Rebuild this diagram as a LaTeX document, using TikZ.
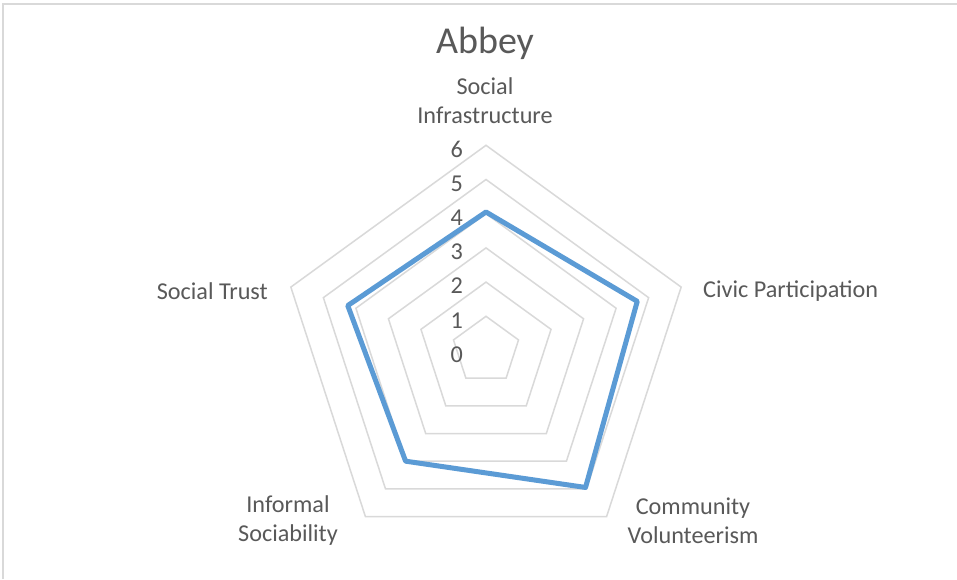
\documentclass[tikz,border=0pt]{standalone}
\usepackage{fontspec}
\setmainfont{Carlito}
\usetikzlibrary{calc}
\definecolor{gridc}{HTML}{D9D9D9}
\definecolor{txt}{HTML}{595959}
\definecolor{serie}{HTML}{5B9BD5}
\tikzset{
  gridline/.style={draw=gridc, line width=1.5pt, line join=miter},
  serieline/.style={draw=serie, line width=5pt, line join=round},
  axlabel/.style={text=txt, font=\fontsize{24.2}{29}\selectfont, inner sep=0pt, align=center},
  ticklabel/.style={text=txt, font=\fontsize{24.2}{29}\selectfont, inner sep=0pt, anchor=east},
  titlelabel/.style={text=txt, font=\fontsize{38}{42}\selectfont, inner sep=0pt}
}
\begin{document}
\begin{tikzpicture}[x=1pt,y=1pt]
\useasboundingbox (0,0) rectangle (957,579);
\fill[white] (0,0) rectangle (957,579);
\draw[gridc, line width=1.5pt] (3,0) -- (3,575) -- (957,575);
\node[titlelabel] (title) at (485,536) {Abbey};
\begin{scope}[shift={(486,228.5)}]
  \coordinate (c) at (0,0);
  \foreach \k in {1,...,6}{
    \draw[gridline] (90:{\k*34.2}) -- (18:{\k*34.2}) -- (-54:{\k*34.2}) -- (-126:{\k*34.2}) -- (162:{\k*34.2}) -- cycle;
  }
  \foreach \k in {0,...,6}{
    \node[ticklabel] (t\k) at (-23,{\k*34.2-4}) {\k};
  }
  \coordinate (d1) at (90:{4.05*34.2});
  \coordinate (d2) at (18:{4.65*34.2});
  \coordinate (d3) at (-54:{4.95*34.2});
  \coordinate (d4) at (-126:{4.0*34.2});
  \coordinate (d5) at (162:{4.25*34.2});
  \draw[serieline] (d1) -- (d2) -- (d3) -- (d4) -- (d5) -- cycle;
\end{scope}
\node[axlabel] (infra) at (485,478.5) {Social\\Infrastructure};
\node[axlabel, anchor=east] (trust) at (268,288) {Social Trust};
\node[axlabel, anchor=west] (civic) at (703,288) {Civic Participation};
\node[axlabel] (informal) at (288,58.5) {Informal\\Sociability};
\node[axlabel] (community) at (693,58.5) {Community\\Volunteerism};
\end{tikzpicture}
\end{document}
